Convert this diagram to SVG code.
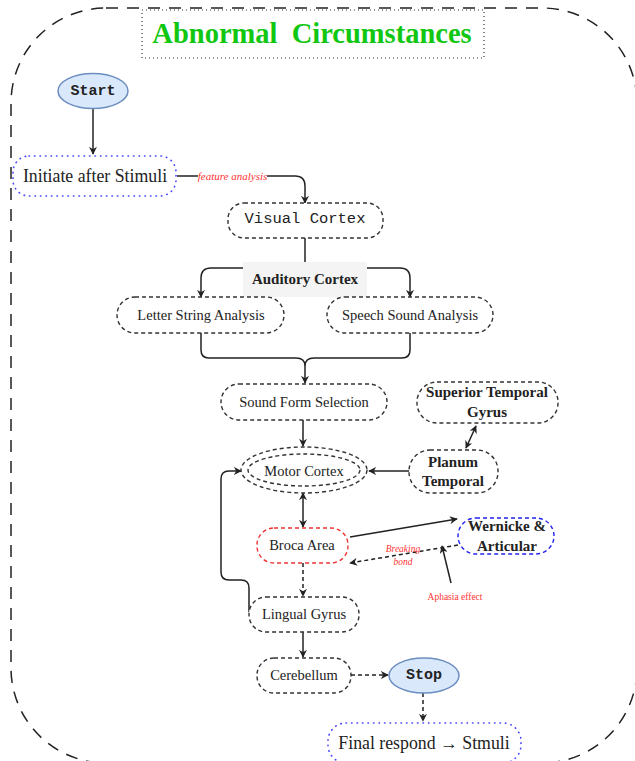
<svg xmlns="http://www.w3.org/2000/svg" width="635" height="761" viewBox="0 0 635 761">
<style>
.nd{fill:#fff;stroke:#333;stroke-width:1.4;stroke-dasharray:4 3}
.dot{fill:#fff;stroke:#4444ff;stroke-width:1.6;stroke-dasharray:0.5 5;stroke-linecap:round}
.ell{fill:#dae8fc;stroke:#6c8ebf;stroke-width:1.5}
.e{fill:none;stroke:#222;stroke-width:1.5}
.ed{fill:none;stroke:#222;stroke-width:1.5;stroke-dasharray:4 3}
.t{font-family:"Liberation Serif",serif;fill:#222;text-anchor:middle;dominant-baseline:central;font-size:14.5px}
.b{font-weight:bold;font-size:15px}
.big{font-size:17.8px}
.m{font-family:"Liberation Mono",monospace;fill:#222;text-anchor:middle;dominant-baseline:central}
.r{font-family:"Liberation Serif",serif;fill:#ff3333;text-anchor:middle;dominant-baseline:central}
</style>
<defs>
<marker id="a" viewBox="0 0 10 10" refX="9" refY="5" markerWidth="8" markerHeight="8" markerUnits="userSpaceOnUse" orient="auto-start-reverse">
<path d="M0,0 L10,5 L0,10 L3,5 z" fill="#222"/>
</marker>
</defs>
<rect x="11" y="8" width="626" height="755" rx="95" ry="95" fill="none" stroke="#222" stroke-width="1.5" stroke-dasharray="12 9"/>
<g id="title">
<rect x="142" y="10" width="342" height="48" fill="#fff" stroke="#333" stroke-width="1.2" stroke-dasharray="1 3"/>
<text x="312" y="33" font-family="Liberation Serif, serif" font-size="28.5" font-weight="bold" fill="#11c711" text-anchor="middle" dominant-baseline="central" style="white-space:pre">Abnormal  Circumstances</text>
</g>
<g id="edges">
<path class="e" d="M93,109 V154" marker-end="url(#a)"/>
<path class="e" d="M177,176 H295 Q305,176 305,186 V203" marker-end="url(#a)"/>
<path class="e" d="M305,238 V262"/>
<path class="e" d="M243,268 H211 Q201,268 201,278 V297" marker-end="url(#a)"/>
<path class="e" d="M367,268 H400 Q410,268 410,278 V297" marker-end="url(#a)"/>
<path class="e" d="M201,333 V350 Q201,358 209,358 H296 Q305,358 305,366 Q305,358 314,358 H402 Q410,358 410,350 V333"/>
<path class="e" d="M305,366 V383" marker-end="url(#a)"/>
<path class="e" d="M303,420 V446" marker-end="url(#a)"/>
<path class="e" d="M476,426 L466,448" marker-start="url(#a)" marker-end="url(#a)"/>
<path class="e" d="M409,471 H369" marker-end="url(#a)"/>
<path class="e" d="M303,493 V527" marker-start="url(#a)" marker-end="url(#a)"/>
<path class="e" d="M350,537 L457,519" marker-end="url(#a)"/>
<path class="ed" d="M458,545 L350,563" marker-end="url(#a)"/>
<path class="e" d="M451,583 L442,546" marker-end="url(#a)"/>
<path class="ed" d="M303,563 V596" marker-end="url(#a)"/>
<path class="e" d="M249,612 V588 Q249,580 241,580 H229 Q221,580 221,572 V479 Q221,471 229,471 H241" marker-end="url(#a)"/>
<path class="e" d="M303,632 V657" marker-end="url(#a)"/>
<path class="ed" d="M351,675 H388" marker-end="url(#a)"/>
<path class="ed" d="M423,693 V721" marker-end="url(#a)"/>
<rect x="198" y="169" width="69" height="14" fill="#fff"/>
<text class="r" x="232.5" y="176" font-size="11" font-style="italic">feature analysis</text>
<rect x="243" y="262" width="124" height="35" fill="#f4f4f4"/>
<text class="t b" x="305" y="279">Auditory Cortex</text>
<text class="r" x="403" y="549" font-size="9.5" font-style="italic">Breaking</text>
<text class="r" x="403" y="562" font-size="9.5" font-style="italic">bond</text>
<text class="r" x="455" y="597" font-size="9.5">Aphasia effect</text>
</g>
<g id="start">
<ellipse class="ell" cx="93" cy="91" rx="35" ry="17.5"/>
<text class="m" x="93" y="91" font-size="15" font-weight="bold">Start</text>
</g>
<g id="initiate">
<rect class="dot" x="13" y="156" width="163" height="40" rx="16"/>
<text class="t big" x="95" y="176">Initiate after Stimuli</text>
</g>
<g id="visual">
<rect class="nd" x="228" y="203" width="155" height="35" rx="16"/>
<text class="m" x="305" y="219" font-size="15.5">Visual Cortex</text>
</g>
<g id="letter">
<rect class="nd" x="117" y="297" width="167" height="36" rx="18"/>
<text class="t" x="201" y="315">Letter String Analysis</text>
</g>
<g id="speech">
<rect class="nd" x="327" y="297" width="166" height="36" rx="18"/>
<text class="t" x="410" y="315">Speech Sound Analysis</text>
</g>
<g id="soundform">
<rect class="nd" x="221" y="384" width="166" height="36" rx="18"/>
<text class="t" x="304" y="402">Sound Form Selection</text>
</g>
<g id="superior">
<rect class="nd" x="417" y="382" width="141" height="41" rx="20"/>
<text class="t b" x="487" y="392">Superior Temporal</text>
<text class="t b" x="487" y="412">Gyrus</text>
</g>
<g id="motor">
<ellipse class="nd" cx="304" cy="470" rx="63" ry="23"/>
<ellipse class="nd" cx="304" cy="470" rx="56" ry="16"/>
<text class="t" x="304" y="471">Motor Cortex</text>
</g>
<g id="planum">
<rect class="nd" x="409" y="450" width="89" height="43" rx="21"/>
<text class="t b" x="453" y="462">Planum</text>
<text class="t b" x="453" y="481">Temporal</text>
</g>
<g id="broca">
<rect class="nd" x="257" y="528" width="91" height="35" rx="17" style="stroke:#ee3333"/>
<text class="t" x="302" y="545">Broca Area</text>
</g>
<g id="wernicke">
<rect class="nd" x="458" y="518" width="96" height="36" rx="18" style="stroke:#2222ee"/>
<text class="t b" x="507" y="526">Wernicke &amp;</text>
<text class="t b" x="507" y="546">Articular</text>
</g>
<g id="lingual">
<rect class="nd" x="249" y="597" width="110" height="35" rx="17"/>
<text class="t" x="304" y="614">Lingual Gyrus</text>
</g>
<g id="cerebellum">
<rect class="nd" x="257" y="658" width="94" height="35" rx="17"/>
<text class="t" x="304" y="675">Cerebellum</text>
</g>
<g id="stop">
<ellipse class="ell" cx="424" cy="675.5" rx="35" ry="17.5"/>
<text class="m" x="424" y="675.5" font-size="15" font-weight="bold">Stop</text>
</g>
<g id="final">
<rect class="dot" x="328" y="723" width="193" height="40" rx="18"/>
<text class="t big" x="424" y="743">Final respond → Stmuli</text>
</g>
</svg>
